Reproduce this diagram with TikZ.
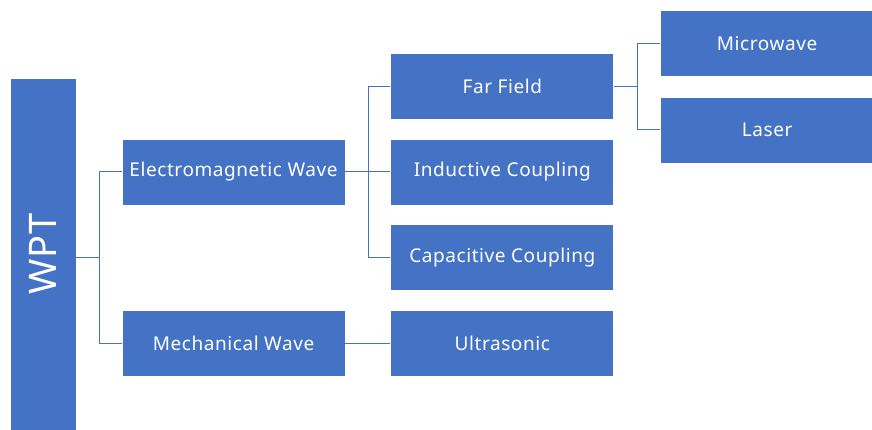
\documentclass[tikz,border=0pt]{standalone}
\usepackage{fontspec}
\setmainfont[LetterSpace=3]{Noto Sans}
\usetikzlibrary{positioning, calc}
\definecolor{officeBlue}{HTML}{4472C4}

\begin{document}
\begin{tikzpicture}[x=1pt, y=-1pt, font=\fontsize{19}{22}\selectfont,
  box/.style={draw=white, line width=0.8pt, fill=officeBlue, text=white,
    minimum width=223pt, minimum height=66pt, inner sep=0pt},
  link/.style={draw=officeBlue, line width=1pt}]

\useasboundingbox (0,0) rectangle (872,430);

% root
\node[box, minimum width=66pt, minimum height=352pt,
  font=\fontsize{38}{40}\selectfont] (wpt) at (43,254)
{\rotatebox{90}{WPT}};

% first level
\node[box] (em) at (233.5,172) {Electromagnetic Wave};
\node[box, below=105pt of em] (mech) {Mechanical Wave};

% second level
\node[box, right=45pt of em] (ind) {Inductive Coupling};
\node[box, above=19pt of ind] (far) {Far Field};
\node[box, below=19pt of ind] (cap) {Capacitive Coupling};
\node[box, right=45pt of mech] (ultra) {Ultrasonic};

% third level
\node[box, minimum width=213pt, right=46pt of far, yshift=43pt] (micro) {Microwave};
\node[box, minimum width=213pt, below=20pt of micro] (laser) {Laser};

% connectors
\coordinate (b1) at ($(em.west)!0.5!(mech.west) + (-22,0)$);
\draw[link] (wpt.east |- b1) -- (b1);
\draw[link] (em.west) -| (b1) |- (mech.west);

\coordinate (b2) at ($(em.east) + (23,0)$);
\draw[link] (em.east) -- (ind.west);
\draw[link] (far.west) -| (b2) |- (cap.west);
\draw[link] (mech.east) -- (ultra.west);

\coordinate (b3) at ($(far.east) + (23,0)$);
\draw[link] (far.east) -- (b3);
\draw[link] (micro.west) -| (b3) |- (laser.west);

\end{tikzpicture}
\end{document}
